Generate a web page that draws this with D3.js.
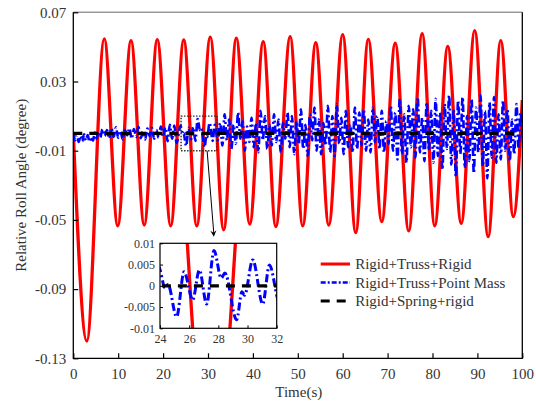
<!DOCTYPE html>
<html>
<head>
<meta charset="utf-8">
<script src="https://cdn.jsdelivr.net/npm/d3@7"></script>
<style>
  body { margin: 0; background: #fff; }
  text { font-family: "Liberation Serif", "Times New Roman", serif; fill: #333; }
</style>
</head>
<body>
<div id="chart"></div>
<script>
// axis ticks
var xTicks = [0, 10, 20, 30, 40, 50, 60, 70, 80, 90, 100];
var yTicks = [0.07, 0.03, -0.01, -0.05, -0.09, -0.13];
var insetXTicks = [24, 26, 28, 30, 32];
var insetYTicks = [0.01, 0.005, 0, -0.005, -0.01];

var seriesNames = ["Rigid+Truss+Rigid", "Rigid+Truss+Point Mass", "Rigid+Spring+rigid"];

// Rigid+Truss+Rigid : turning points [time, angle]
var redData = [
  [0, 0], [3.0, -0.120], [6.9, 0.0546], [9.9, -0.0534], [12.85, 0.0536], [15.8, -0.053],
  [18.7, 0.0542], [21.7, -0.0534], [24.6, 0.054], [27.5, -0.0535], [30.5, 0.0556],
  [33.5, -0.0558], [36.3, 0.055], [39.3, -0.0524], [42.3, 0.053], [45.1, -0.0539],
  [48.3, 0.0559], [51.1, -0.0535], [54.0, 0.0524], [56.9, -0.053], [60.0, 0.0571],
  [62.9, -0.0574], [65.7, 0.0544], [68.7, -0.051], [71.7, 0.0521], [74.7, -0.0564],
  [77.7, 0.0576], [80.5, -0.0534], [83.4, 0.0503], [86.4, -0.052], [89.4, 0.0594],
  [92.4, -0.0597], [95.2, 0.0536], [98.0, -0.0481], [100, 0.0193]
];

// Rigid+Truss+Point Mass : turning points [time, angle]
var blueData = [
  [0, 0], [0.4, -0.004], [0.8, -0.001], [1.2, -0.005], [1.6, -0.0015], [2.0, -0.0045],
  [2.4, -0.0005], [2.8, -0.004], [3.2, -0.001], [3.6, -0.0048], [4.0, -0.002], [4.4, -0.0042],
  [4.8, 0.0005], [5.2, -0.003], [5.6, 0.001], [6.0, -0.0025],
  [6.5, 0.0025], [7.0, -0.0015], [7.5, 0.002], [8.0, -0.003], [8.5, 0.003], [9.0, -0.002],
  [9.5, 0.0035], [10.0, -0.0025], [10.5, 0.0015], [11.0, -0.0035], [11.5, 0.002], [12.0, -0.001],
  [12.5, 0.003], [13.0, -0.003], [13.5, 0.0025], [14.0, -0.002], [14.5, 0.0038], [15.0, -0.0028],
  [15.5, 0.001], [16.0, -0.0035], [16.5, 0.0028], [17.0, -0.0015], [17.5, 0.0032], [18.0, -0.003],
  [18.5, 0.002], [19.0, -0.0025], [19.5, 0.004], [20.0, -0.002],
  [20.5, 0.0035], [21.0, -0.0045], [21.5, 0.005], [22.0, -0.003], [22.5, 0.0045], [23.0, -0.0055],
  [23.9, 0.0045], [24.35, -0.0005], [24.55, 0.0003], [25.14, -0.0073], [25.65, 0.0033],
  [26.24, -0.0033], [26.7, 0.0037], [27.2, -0.0043], [27.7, 0.0083], [28.2, 0.0018],
  [28.45, 0.003], [29.25, -0.008], [29.62, -0.0014], [29.8, -0.0022], [30.36, 0.0061],
  [31.04, -0.0043], [31.5, 0.0049], [32.2, -0.004],
  [32.7, 0.006], [33.2, -0.007], [33.7, 0.011], [34.2, -0.004], [34.7, 0.008], [35.2, -0.009],
  [35.7, 0.005], [36.2, -0.006], [36.7, 0.012], [37.2, -0.003], [37.7, 0.007], [38.2, -0.010],
  [38.7, 0.004], [39.2, -0.005], [39.7, 0.009], [40.2, -0.008], [40.7, 0.006], [41.2, -0.011],
  [41.7, 0.013], [42.2, -0.004], [42.7, 0.010], [43.2, -0.009], [43.7, 0.005], [44.2, -0.007],
  [44.7, 0.011], [45.2, -0.005], [45.7, 0.008], [46.2, -0.011], [46.7, 0.006], [47.2, -0.003],
  [47.7, 0.012],
  [48.2, -0.008], [48.7, 0.010], [49.2, -0.012], [49.7, 0.007], [50.2, -0.006], [50.7, 0.014],
  [51.2, -0.009], [51.7, 0.005], [52.2, -0.013], [52.7, 0.011], [53.2, -0.004], [53.7, 0.015],
  [54.2, -0.010], [54.7, 0.008], [55.2, -0.012], [55.7, 0.006], [56.2, -0.007], [56.7, 0.016],
  [57.2, -0.011], [57.7, 0.010], [58.2, -0.013], [58.7, 0.017], [59.2, -0.006], [59.7, 0.009],
  [60.2, -0.012], [60.7, 0.013], [61.2, -0.008], [61.7, 0.005], [62.2, -0.011], [62.7, 0.015],
  [63.2, -0.009], [63.7, 0.012],
  [64.2, -0.007], [64.7, 0.014], [65.2, -0.010], [65.7, 0.008], [66.2, -0.011], [66.7, 0.015],
  [67.2, -0.005], [67.7, 0.010], [68.2, -0.009], [68.7, 0.013], [69.2, -0.011], [69.7, 0.007],
  [70.2, -0.006], [70.7, 0.016], [71.2, -0.010], [71.7, 0.012],
  [72.2, -0.015], [72.7, 0.020], [73.2, -0.012], [73.7, 0.011], [74.2, -0.017], [74.7, 0.016],
  [75.2, -0.008], [75.7, 0.014], [76.2, -0.014], [76.7, 0.021], [77.2, -0.011], [77.7, 0.009],
  [78.2, -0.016], [78.7, 0.018], [79.2, -0.010], [79.7, 0.013],
  [80.2, -0.017], [80.7, 0.020], [81.2, -0.013], [81.7, 0.012], [82.2, -0.021], [82.7, 0.017],
  [83.2, -0.009], [83.7, 0.022], [84.2, -0.018], [84.7, 0.014], [85.2, -0.025], [85.7, 0.019],
  [86.2, -0.012], [86.7, 0.021], [87.2, -0.020], [87.7, 0.010], [88.2, -0.016], [88.7, 0.020],
  [89.2, -0.023], [89.7, 0.015], [90.2, -0.011], [90.7, 0.022], [91.2, -0.019], [91.7, 0.013],
  [92.2, -0.026], [92.7, 0.018], [93.2, -0.014], [93.7, 0.021], [94.2, -0.017], [94.7, 0.011],
  [95.2, -0.015], [95.7, 0.019], [96.2, -0.010], [96.7, 0.014], [97.2, -0.016], [97.7, 0.008],
  [98.2, -0.012], [98.7, 0.017], [99.2, -0.009], [99.6, 0.012], [100, 0.004]
];

// Rigid+Spring+rigid : flat at zero
var blackData = [[0, 0], [100, 0]];

var zoomBox = { t0: 24, t1: 32, v0: -0.01, v1: 0.01 };

var width = 536, height = 404;
var plot = { left: 73.3, right: 522.3, top: 12.3, bottom: 358.3 };
var inset = { left: 160, right: 276.7, top: 243.3, bottom: 328.3 };

var svg = d3.select("#chart").append("svg")
    .attr("width", width)
    .attr("height", height);

var x = d3.scaleLinear().domain([0, 100]).range([plot.left, plot.right]);
var y = d3.scaleLinear().domain([-0.13, 0.07]).range([plot.bottom, plot.top]);

var styles = [
    { color: "#ff0000", w: 3.3, dash: null },
    { color: "#0000ff", w: 2.6, dash: "8,3,2,3" },
    { color: "#000000", w: 3.2, dash: "9,7" }
];

// plain hyphen for negatives, as in the original figure
function fmt(spec){
    var f = d3.format(spec);
    return function(d){ return d === 0 ? "0" : f(d).replace("\u2212", "-"); };
}

svg.append("clipPath").attr("id", "mainClip")
    .append("rect")
    .attr("x", plot.left).attr("y", plot.top)
    .attr("width", plot.right - plot.left).attr("height", plot.bottom - plot.top);

function drawSeries(g, data, xs, ys, st){
    var line = d3.line()
        .x(function(d){ return xs(d[0]); })
        .y(function(d){ return ys(d[1]); })
        .curve(d3.curveMonotoneX);
    g.append("path")
        .datum(data)
        .attr("d", line)
        .attr("fill", "none")
        .attr("stroke", st.color)
        .attr("stroke-width", st.w)
        .attr("stroke-dasharray", st.dash)
        .attr("stroke-linejoin", "round");
}

var main = svg.append("g").attr("clip-path", "url(#mainClip)");
drawSeries(main, redData, x, y, styles[0]);
drawSeries(main, blueData, x, y, styles[1]);
drawSeries(main, blackData, x, y, styles[2]);

// frame
svg.append("line").attr("x1", plot.left).attr("x2", plot.right)
    .attr("y1", plot.top).attr("y2", plot.top)
    .attr("stroke", "#999").attr("stroke-width", 1.5);
svg.append("path")
    .attr("d", "M" + plot.left + "," + plot.top + "V" + plot.bottom + "H" + plot.right + "V" + plot.top)
    .attr("fill", "none").attr("stroke", "#000").attr("stroke-width", 1.3);

// axes (inside ticks)
var xAxis = svg.append("g").attr("transform", "translate(0," + plot.bottom + ")")
    .call(d3.axisBottom(x).tickValues(xTicks).tickSizeInner(-5).tickSizeOuter(0).tickPadding(10));
var yAxis = svg.append("g").attr("transform", "translate(" + plot.left + ",0)")
    .call(d3.axisLeft(y).tickValues(yTicks).tickSizeInner(-5).tickSizeOuter(0).tickPadding(7)
        .tickFormat(fmt(".2f")));
[xAxis, yAxis].forEach(function(a){
    a.select(".domain").remove();
    a.selectAll("line").attr("stroke", "#000").attr("stroke-width", 1.2);
    a.selectAll("text").style("font-size", "15px").attr("fill", "#333")
        .style("font-family", "'Liberation Serif', serif");
});

svg.append("text")
    .attr("transform", "translate(26," + ((plot.top + plot.bottom) / 2) + ") rotate(-90)")
    .attr("text-anchor", "middle")
    .style("font-size", "15px")
    .text("Relative Roll Angle (degree)");

svg.append("text")
    .attr("x", (plot.left + plot.right) / 2 + 1)
    .attr("y", 397)
    .attr("text-anchor", "middle")
    .style("font-size", "15px")
    .text("Time(s)");

// dotted zoom rectangle
svg.append("rect")
    .attr("x", x(zoomBox.t0)).attr("y", y(zoomBox.v1))
    .attr("width", x(zoomBox.t1) - x(zoomBox.t0))
    .attr("height", y(zoomBox.v0) - y(zoomBox.v1))
    .attr("fill", "none").attr("stroke", "#222")
    .attr("stroke-width", 1.4).attr("stroke-dasharray", "1.4,1.6");

// arrow to inset
var ax0 = x(29.8), ay0 = y(zoomBox.v0), ax1 = x(31.3), ay1 = inset.top - 6.5;
svg.append("line").attr("x1", ax0).attr("y1", ay0).attr("x2", ax1).attr("y2", ay1 - 3)
    .attr("stroke", "#000").attr("stroke-width", 1);
var ang = Math.atan2(ay1 - ay0, ax1 - ax0);
function pt(l, a){ return [ax1 - l * Math.cos(ang + a), ay1 - l * Math.sin(ang + a)]; }
var p1 = pt(7, 0.45), p2 = pt(4, 0), p3 = pt(7, -0.45);
svg.append("path")
    .attr("d", "M" + ax1 + "," + ay1 + "L" + p1 + "L" + p2 + "L" + p3 + "Z")
    .attr("fill", "#000");

// inset
var xi = d3.scaleLinear().domain([zoomBox.t0, zoomBox.t1]).range([inset.left, inset.right]);
var yi = d3.scaleLinear().domain([zoomBox.v0, zoomBox.v1]).range([inset.bottom, inset.top]);

svg.append("rect")
    .attr("x", inset.left).attr("y", inset.top)
    .attr("width", inset.right - inset.left).attr("height", inset.bottom - inset.top)
    .attr("fill", "#fff");

svg.append("clipPath").attr("id", "insetClip")
    .append("rect")
    .attr("x", inset.left).attr("y", inset.top)
    .attr("width", inset.right - inset.left).attr("height", inset.bottom - inset.top);

function inRange(d){ return d[0] >= zoomBox.t0 - 4 && d[0] <= zoomBox.t1 + 4; }
var ins = svg.append("g").attr("clip-path", "url(#insetClip)");
drawSeries(ins, redData.filter(inRange), xi, yi, styles[0]);
drawSeries(ins, blueData.filter(inRange), xi, yi, { color: "#0000ff", w: 3, dash: "8,3,2,3" });
drawSeries(ins, blackData, xi, yi, styles[2]);

svg.append("rect")
    .attr("x", inset.left).attr("y", inset.top)
    .attr("width", inset.right - inset.left).attr("height", inset.bottom - inset.top)
    .attr("fill", "none").attr("stroke", "#000").attr("stroke-width", 1.2);

var xiAxis = svg.append("g").attr("transform", "translate(0," + inset.bottom + ")")
    .call(d3.axisBottom(xi).tickValues(insetXTicks).tickSizeInner(-3).tickSizeOuter(0).tickPadding(6));
var yiAxis = svg.append("g").attr("transform", "translate(" + inset.left + ",0)")
    .call(d3.axisLeft(yi).tickValues(insetYTicks).tickSizeInner(-3).tickSizeOuter(0).tickPadding(5)
        .tickFormat(function(d){ return d === 0 ? "0" : String(d); }));
[xiAxis, yiAxis].forEach(function(a){
    a.select(".domain").remove();
    a.selectAll("line").attr("stroke", "#000");
    a.selectAll("text").style("font-size", "12px").attr("fill", "#333")
        .style("font-family", "'Liberation Serif', serif");
});

// legend
var legend = svg.append("g").attr("transform", "translate(320.7,264)");
seriesNames.forEach(function(name, i){
    var row = legend.append("g").attr("transform", "translate(0," + (i * 18.5) + ")");
    row.append("line").attr("x1", 0).attr("x2", 29.3).attr("y1", 0).attr("y2", 0)
        .attr("stroke", styles[i].color)
        .attr("stroke-width", i === 1 ? 2.6 : 3)
        .attr("stroke-dasharray", i === 1 ? "5,2,2,2" : (i === 2 ? "9,7" : null));
    row.append("text").attr("x", 34.5).attr("y", 5)
        .style("font-size", "15px")
        .text(name);
});
</script>
</body>
</html>
